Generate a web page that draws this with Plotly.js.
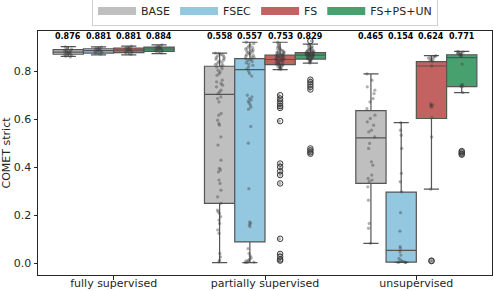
<!DOCTYPE html>
<html><head><meta charset="utf-8">
<script src="https://cdn.plot.ly/plotly-3.0.1.min.js"></script>
<style>html,body{margin:0;padding:0;background:#fff}#chart{width:493px;height:291px}</style>
</head><body><div id="chart"></div>
<script>
const groups = ['fully supervised', 'partially supervised', 'unsupervised'];
const seriesNames = ['BASE', 'FSEC', 'FS', 'FS+PS+UN'];

// means shown above boxes, per group
const meanBASE = [0.876, 0.558, 0.465];
const meanFSEC = [0.881, 0.557, 0.154];
const meanFS   = [0.881, 0.753, 0.624];
const meanFPU  = [0.884, 0.829, 0.771];

// box statistics per group
const lfBASE = [0.862, 0.002, 0.082], q1BASE = [0.871, 0.249, 0.332], medBASE = [0.880, 0.704, 0.522], q3BASE = [0.890, 0.821, 0.636], ufBASE = [0.903, 0.876, 0.789];
const lfFSEC = [0.868, 0.002, 0.003], q1FSEC = [0.876, 0.088, 0.004], medFSEC = [0.886, 0.807, 0.053], q3FSEC = [0.894, 0.853, 0.296], ufFSEC = [0.902, 0.921, 0.586];
const lfFS   = [0.868, 0.807, 0.308], q1FS   = [0.878, 0.828, 0.603], medFS   = [0.888, 0.849, 0.822], q3FS   = [0.897, 0.867, 0.840], ufFS   = [0.905, 0.921, 0.865];
const lfFPU  = [0.874, 0.834, 0.711], q1FPU  = [0.883, 0.851, 0.736], medFPU  = [0.893, 0.867, 0.857], q3FPU  = [0.901, 0.878, 0.869], ufFPU  = [0.910, 0.913, 0.883];

// outliers (fliers) per group
const outBASE = [[], [], []];
const outFSEC = [[], [], []];
const outFS   = [[], [0.700,0.686,0.675,0.665,0.655,0.647,0.592,0.415,0.401,0.383,0.367,0.332,0.101,0.038,0.026,0.015,0.010], [0.010, 0.008]];
const outFPU  = [[], [0.926,0.765,0.755,0.745,0.735,0.724,0.478,0.470,0.462,0.456], [0.467,0.462,0.456,0.452]];

// individual samples (strip points, excluding fliers)
const baseFull = [0.902,0.897,0.893,0.890,0.888,0.886,0.884,0.882,0.880,0.879,0.877,0.875,0.873,0.871,0.869,0.866,0.863,0.860];
const fsecFull = [0.901,0.898,0.895,0.893,0.891,0.889,0.887,0.885,0.883,0.881,0.879,0.876,0.872];
const fsFull   = [0.905,0.900,0.897,0.895,0.893,0.890,0.888,0.886,0.884,0.881,0.879,0.876,0.870];
const fpuFull  = [0.910,0.905,0.902,0.900,0.898,0.896,0.894,0.892,0.890,0.888,0.885,0.882,0.877];

const basePartial = [0.876,0.874,0.870,0.867,0.864,0.860,0.857,0.853,0.850,0.846,0.842,0.839,0.835,0.832,0.828,0.825,0.821,0.818,0.811,0.804,0.797,0.790,0.783,0.763,0.756,0.749,0.742,0.735,0.721,0.714,0.707,0.693,0.686,0.672,0.624,0.617,0.596,0.582,0.575,0.526,0.492,0.429,0.395,0.388,0.380,0.346,0.332,0.304,0.276,0.249,0.221,0.214,0.207,0.193,0.179,0.165,0.138,0.124,0.040,0.026,0.012,0.005];
const fsecPartial = [0.921,0.915,0.910,0.905,0.900,0.897,0.893,0.890,0.887,0.884,0.881,0.878,0.875,0.872,0.869,0.866,0.863,0.860,0.857,0.854,0.851,0.848,0.845,0.840,0.835,0.830,0.825,0.818,0.810,0.800,0.790,0.780,0.700,0.693,0.686,0.680,0.675,0.668,0.660,0.650,0.642,0.570,0.500,0.310,0.172,0.166,0.160,0.152,0.060,0.040,0.030,0.022,0.016,0.012,0.009,0.006,0.004,0.003,0.002];
const fsPartial = [0.921,0.915,0.908,0.903,0.899,0.895,0.892,0.889,0.886,0.884,0.882,0.880,0.878,0.876,0.875,0.873,0.872,0.870,0.869,0.867,0.866,0.865,0.863,0.862,0.860,0.859,0.858,0.856,0.855,0.853,0.852,0.850,0.849,0.848,0.846,0.845,0.843,0.841,0.840,0.838,0.836,0.834,0.832,0.830,0.829,0.828,0.826,0.824,0.822,0.820,0.818,0.815,0.812,0.809,0.807];
const fpuPartial = [0.913,0.908,0.904,0.900,0.897,0.895,0.893,0.891,0.889,0.887,0.886,0.884,0.883,0.881,0.880,0.879,0.878,0.877,0.876,0.875,0.874,0.873,0.872,0.871,0.870,0.869,0.868,0.867,0.866,0.865,0.864,0.862,0.861,0.860,0.858,0.857,0.855,0.853,0.851,0.849,0.847,0.845,0.842,0.838,0.834];

const baseUnsup = [0.789,0.763,0.735,0.721,0.707,0.686,0.672,0.644,0.617,0.603,0.589,0.575,0.554,0.547,0.526,0.499,0.478,0.422,0.408,0.367,0.353,0.346,0.340,0.318,0.262,0.165,0.145,0.082];
const fsecUnsup = [0.586,0.554,0.533,0.478,0.374,0.339,0.297,0.210,0.133,0.068,0.061,0.047,0.033,0.019,0.012,0.007,0.005,0.004,0.003,0.003,0.002];
const fsUnsup   = [0.865,0.862,0.860,0.858,0.855,0.850,0.848,0.845,0.840,0.822,0.665,0.660,0.658,0.655,0.650,0.607,0.526,0.308];
const fpuUnsup  = [0.883,0.880,0.878,0.876,0.874,0.872,0.870,0.868,0.865,0.862,0.830,0.745,0.742,0.738,0.736,0.711];

const samples = [
  [baseFull, basePartial, baseUnsup],
  [fsecFull, fsecPartial, fsecUnsup],
  [fsFull, fsPartial, fsUnsup],
  [fpuFull, fpuPartial, fpuUnsup]
];
const stats = [
  [lfBASE, q1BASE, medBASE, q3BASE, ufBASE],
  [lfFSEC, q1FSEC, medFSEC, q3FSEC, ufFSEC],
  [lfFS, q1FS, medFS, q3FS, ufFS],
  [lfFPU, q1FPU, medFPU, q3FPU, ufFPU]
];
const fliers = [outBASE, outFSEC, outFS, outFPU];
const means = [meanBASE, meanFSEC, meanFS, meanFPU];

const fillColors = ['#bfbfbf', '#93c8e0', '#c26361', '#48a06f'];
const edge = '#555555';
const FONT = 'DejaVu Sans';

const boxes = [], flierTraces = [], strips = [], legendTraces = [];
seriesNames.forEach((name, s) => {
  const st = stats[s];
  boxes.push({
    type: 'box', name: name, offsetgroup: 'g' + s, showlegend: false,
    x: groups, lowerfence: st[0], q1: st[1], median: st[2], q3: st[3], upperfence: st[4],
    boxpoints: false, fillcolor: fillColors[s], line: {color: edge, width: 1.2},
    whiskerwidth: 0.5, hoverinfo: 'skip'
  });
  const fx = [], fy = [], sx = [], sy = [];
  groups.forEach((g, gi) => {
    fliers[s][gi].forEach(v => { fx.push(g); fy.push(v); });
    samples[s][gi].concat(fliers[s][gi]).forEach(v => { sx.push(g); sy.push(v); });
  });
  flierTraces.push({
    type: 'box', name: name + ' fliers', offsetgroup: 'g' + s, showlegend: false,
    x: fx, y: fy, boxpoints: 'all', jitter: 0, pointpos: 0,
    fillcolor: 'rgba(0,0,0,0)', line: {color: 'rgba(0,0,0,0)', width: 0},
    marker: {symbol: 'circle-open', size: 5.5, color: '#3a3a3a', line: {width: 1, color: '#3a3a3a'}},
    hoverinfo: 'skip'
  });
  strips.push({
    type: 'box', name: name + ' points', offsetgroup: 'g' + s, showlegend: false,
    x: sx, y: sy, boxpoints: 'all', jitter: 0.3, pointpos: 0,
    fillcolor: 'rgba(0,0,0,0)', line: {color: 'rgba(0,0,0,0)', width: 0},
    marker: {size: 3.3, color: 'rgba(60,60,60,0.4)'},
    hoverinfo: 'skip'
  });
  legendTraces.push({
    type: 'scatter', mode: 'lines', name: name, x: [null], y: [null],
    line: {color: fillColors[s], width: 8}, showlegend: true, hoverinfo: 'skip'
  });
});

const annotations = [];
groups.forEach((g, gi) => {
  seriesNames.forEach((n, s) => {
    annotations.push({
      xref: 'x', yref: 'y', x: gi + (s - 1.5) * 0.2, y: 0.946, yanchor: 'middle',
      text: means[s][gi].toFixed(3), showarrow: false,
      font: {family: FONT, size: 8, color: '#000', weight: 'bold'}
    });
  });
});

const layout = {
  width: 493, height: 291,
  margin: {l: 38, r: 1, t: 31, b: 16, autoexpand: false},
  paper_bgcolor: '#fff', plot_bgcolor: '#fff',
  font: {family: FONT, size: 11, color: '#262626'},
  boxmode: 'group', boxgap: 0.2, boxgroupgap: 0,
  showlegend: true,
  legend: {
    orientation: 'h', x: 0.5, xanchor: 'center', y: 1.082, yanchor: 'middle',
    bordercolor: '#d0d0d0', borderwidth: 1, bgcolor: '#fff', itemwidth: 38,
    font: {family: FONT, size: 11, color: '#262626'}
  },
  xaxis: {
    type: 'category', categoryorder: 'array', categoryarray: groups, range: [-0.5, 2.5],
    showline: true, mirror: true, linecolor: '#262626', linewidth: 1,
    ticks: 'outside', ticklen: 3.5, tickcolor: '#262626', showgrid: false, zeroline: false,
    ticklabelstandoff: -6,
    tickfont: {family: FONT, size: 11, color: '#262626'}, automargin: false
  },
  yaxis: {
    range: [-0.05, 0.968], tickvals: [0, 0.2, 0.4, 0.6, 0.8], tickformat: '.1f',
    showline: true, mirror: true, linecolor: '#262626', linewidth: 1,
    ticks: 'outside', ticklen: 3.5, tickcolor: '#262626', showgrid: false, zeroline: false,
    tickfont: {family: FONT, size: 11, color: '#262626'}, automargin: false,
    title: {text: 'COMET strict', font: {family: FONT, size: 11, color: '#262626'}, standoff: 4}
  },
  annotations: annotations
};

Plotly.newPlot('chart', boxes.concat(flierTraces, strips, legendTraces), layout, {displayModeBar: false, staticPlot: true});
</script>
</body></html>
